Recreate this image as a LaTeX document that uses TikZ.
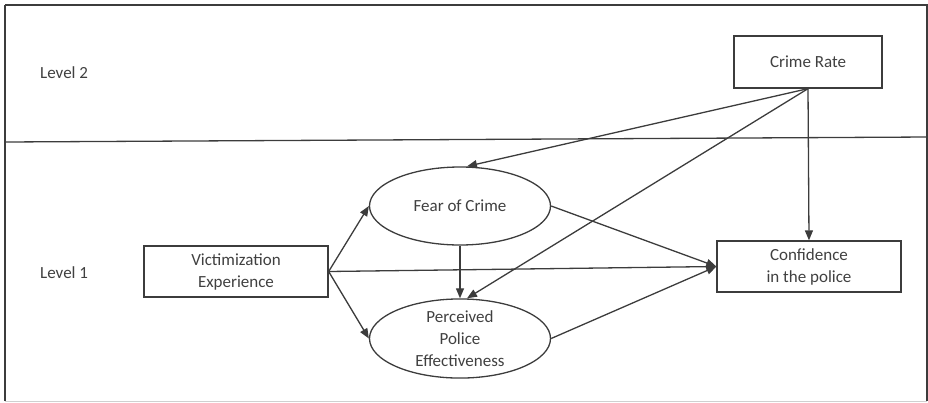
\documentclass[tikz,border=0pt]{standalone}
\usepackage{fontspec}
\setmainfont{Carlito}
\usetikzlibrary{arrows.meta,shapes.geometric}
\definecolor{ink}{HTML}{3C3C3C}
\definecolor{txt}{HTML}{404040}
\definecolor{faint}{HTML}{D0D0D0}
\tikzset{
  lbl/.style={text=txt,font=\fontsize{17}{22}\selectfont,inner sep=0pt},
  boxnode/.style={lbl,draw=ink,line width=1.3pt,rectangle,align=center},
  latent/.style={lbl,draw=ink,line width=1.3pt,ellipse,align=center,
    minimum width=181pt,minimum height=78pt},
  path/.style={draw=ink,line width=1.3pt,-{Triangle[length=10pt,width=8pt]}}
}
\begin{document}
\begin{tikzpicture}[x=1pt,y=-1pt]
\useasboundingbox (0,0) rectangle (928,402);
% outer frame
\draw[ink,line width=2pt] (5,401) -- (5,5);
\draw[ink,line width=1.3pt] (5,5) -- (927,5) -- (927,401);
\draw[faint,line width=1pt] (5,401) -- (927,401);
% divider between the two levels
\draw[ink,line width=1.3pt] (5,142) -- (928,137);
% level labels
\node[lbl,anchor=west] (lv2) at (40,73) {Level 2};
\node[lbl,anchor=west] (lv1) at (40,273) {Level 1};
% variables
\node[boxnode,minimum width=148pt,minimum height=52pt] (crime) at (808,62) {Crime Rate};
\node[boxnode,minimum width=184pt,minimum height=51pt] (victim) at (236,271.5) {Victimization\\Experience};
\node[boxnode,minimum width=184pt,minimum height=51pt] (conf) at (809,266.5) {Confidence\\in the police};
\node[latent] (fear) at (460,206) {Fear of Crime};
\node[latent,minimum height=79pt] (ppe) at (460,338.5) {Perceived\\Police\\Effectiveness};
% paths
\draw[path] (crime.south) -- ([xshift=7pt]fear.north);
\draw[path] (crime.south) -- ([xshift=7pt]ppe.north);
\draw[path] (crime.south) -- (conf.north);
\draw[path] (fear.south) -- (ppe.north);
\draw[path] (victim.east) -- (fear.west);
\draw[path] (victim.east) -- (ppe.west);
\draw[path] (victim.east) -- (conf.west);
\draw[path] (fear.east) -- (conf.west);
\draw[path] (ppe.east) -- (conf.west);
\end{tikzpicture}
\end{document}
